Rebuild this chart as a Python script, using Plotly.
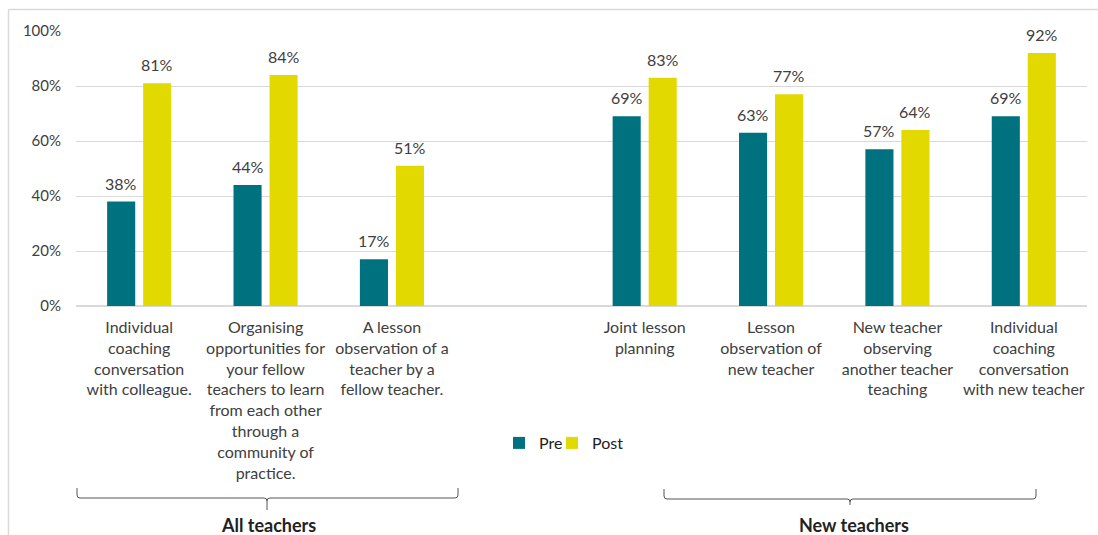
import plotly.graph_objects as go

categories = [
    "Individual<br>coaching<br>conversation<br>with colleague.",
    "Organising<br>opportunities for<br>your fellow<br>teachers to learn<br>from each other<br>through a<br>community of<br>practice.",
    "A lesson<br>observation of a<br>teacher by a<br>fellow teacher.",
    " ",
    "Joint lesson<br>planning",
    "Lesson<br>observation of<br>new teacher",
    "New teacher<br>observing<br>another teacher<br>teaching",
    "Individual<br>coaching<br>conversation<br>with new teacher",
]
pre = [38, 44, 17, None, 69, 63, 57, 69]
post = [81, 84, 51, None, 83, 77, 64, 92]
y_ticks = [0, 20, 40, 60, 80, 100]
y_ticktext = ["0%", "20%", "40%", "60%", "80%", "100%"]
groups = ["All teachers", "New teachers"]

W, H = 1098, 535
ML, MR, MT, MB = 76, 11, 31, 229
PW, PH = W - ML - MR, H - MT - MB

def px(x):
    return (x - ML) / PW

def py(y):
    return (H - MB - y) / PH

FONT = "Lato"
TXT = "#404040"
PRE_C = "#00727F"
POST_C = "#E2D900"

fig = go.Figure()
fig.add_bar(x=categories, y=pre, name="Pre", marker_color=PRE_C, marker_line_width=0,
            legend="legend")
fig.add_bar(x=categories, y=post, name="Post", marker_color=POST_C, marker_line_width=0,
            legend="legend2")

ann = []
for vals, sh in ((pre, -18), (post, 18)):
    for c, v in zip(categories, vals):
        if v is None:
            continue
        ann.append(dict(x=c, y=v, xref="x", yref="y", text=f"{v}%", showarrow=False,
                        xshift=sh, yanchor="bottom", yshift=7,
                        font=dict(family=FONT, size=16, color=TXT)))

# group labels
for gx, gname in ((268, groups[0]), (854, groups[1])):
    ann.append(dict(x=px(gx), y=py(525), xref="paper", yref="paper", text=f"<b>{gname}</b>",
                    xanchor="center", yanchor="middle", showarrow=False,
                    font=dict(family=FONT, size=18, color="#222222")))
fig.update_layout(annotations=ann)

def brace(x0, x1, xm, ytop, yline, ybot):
    r = 3
    p = (f"M {px(x0)},{py(ytop)} L {px(x0)},{py(yline - r)} "
         f"Q {px(x0)},{py(yline)} {px(x0 + r)},{py(yline)} "
         f"L {px(xm - r)},{py(yline)} Q {px(xm)},{py(yline)} {px(xm)},{py(yline + r)} "
         f"L {px(xm)},{py(ybot)} M {px(xm)},{py(yline + r)} "
         f"Q {px(xm)},{py(yline)} {px(xm + r)},{py(yline)} "
         f"L {px(x1 - r)},{py(yline)} Q {px(x1)},{py(yline)} {px(x1)},{py(yline - r)} "
         f"L {px(x1)},{py(ytop)}")
    return dict(type="path", path=p, xref="paper", yref="paper",
                line=dict(color="#555555", width=1))

shapes = [
    brace(77, 458, 267, 488, 498, 510),
    brace(664, 1036, 850, 489, 499, 505),
    # outer frame
    dict(type="line", xref="paper", yref="paper", x0=px(8.5), x1=px(1100), y0=py(9.5), y1=py(9.5),
         line=dict(color="#D9D9D9", width=1.5)),
    dict(type="line", xref="paper", yref="paper", x0=px(8.5), x1=px(8.5), y0=py(9.5), y1=py(540),
         line=dict(color="#D9D9D9", width=1.5)),
]
fig.update_layout(shapes=shapes)

leg_common = dict(orientation="h", xanchor="left", yanchor="middle",
                  font=dict(family=FONT, size=16, color="#222222"), itemwidth=30,
                  bgcolor="rgba(0,0,0,0)")

fig.update_layout(
    width=W, height=H,
    margin=dict(l=ML, r=MR, t=MT, b=MB),
    paper_bgcolor="white", plot_bgcolor="white",
    barmode="group", bargap=0.43, bargroupgap=0.22,
    font=dict(family=FONT, size=16, color=TXT),
    showlegend=True,
    legend=dict(x=px(499), y=py(443), **leg_common),
    legend2=dict(x=px(552), y=py(443), **leg_common),
    xaxis=dict(type="category", showline=False, ticks="", tickangle=0,
               tickfont=dict(family=FONT, size=16, color=TXT), ticklabelstandoff=10),
    yaxis=dict(range=[0, 100], tickvals=y_ticks, ticktext=y_ticktext, showgrid=True,
               gridcolor="#D9D9D9", gridwidth=1, zeroline=True, zerolinecolor="#D9D9D9",
               zerolinewidth=1.5, showline=False,
               tickfont=dict(family=FONT, size=15, color=TXT), ticklabelstandoff=14),
)

fig.write_html("out.html")
